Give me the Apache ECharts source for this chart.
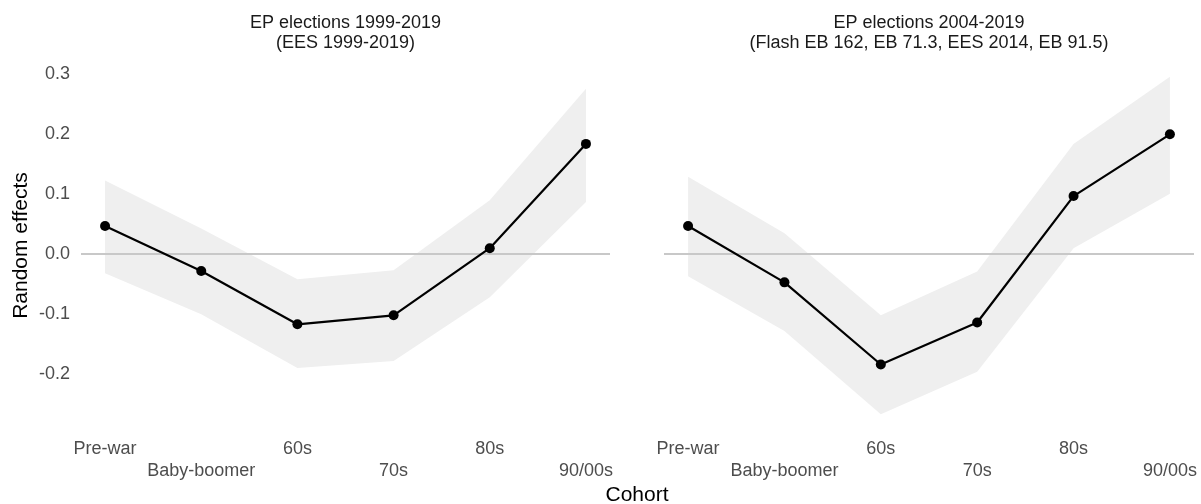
<!DOCTYPE html>
<html>
<head>
<meta charset="utf-8">
<script src="https://cdn.jsdelivr.net/npm/echarts@6/dist/echarts.min.js"></script>
<style>
  html, body { margin: 0; padding: 0; background: #ffffff; }
  #chart { width: 1201px; height: 504px; }
</style>
</head>
<body>
<div id="chart"></div>
<script>
// Cohort random effects with 95% intervals, two survey pools
const cohorts = ['Pre-war', 'Baby-boomer', '60s', '70s', '80s', '90/00s'];

// EP elections 1999-2019 (EES 1999-2019)
const eesEstimate = [0.047, -0.028, -0.117, -0.102, 0.010, 0.184];
const eesLower    = [-0.032, -0.100, -0.190, -0.178, -0.072, 0.087];
const eesUpper    = [0.123, 0.043, -0.042, -0.027, 0.090, 0.276];

// EP elections 2004-2019 (Flash EB 162, EB 71.3, EES 2014, EB 91.5)
const ebEstimate = [0.047, -0.047, -0.184, -0.114, 0.097, 0.200];
const ebLower    = [-0.037, -0.128, -0.267, -0.196, 0.010, 0.101];
const ebUpper    = [0.129, 0.035, -0.102, -0.029, 0.184, 0.296];

const yTicks = [-0.2, -0.1, 0.0, 0.1, 0.2, 0.3];

const panelTitles = [
  'EP elections 1999-2019\n(EES 1999-2019)',
  'EP elections 2004-2019\n(Flash EB 162, EB 71.3, EES 2014, EB 91.5)'
];

const FONT = "'Liberation Sans', Arial, Helvetica, sans-serif";
const positions = cohorts.map((_, i) => i);

const grids = [
  { left: 81, width: 529, top: 60, height: 371 },
  { left: 664, width: 530, top: 60, height: 371 }
];

function xAxisFor(gridIndex) {
  return {
    type: 'value', gridIndex,
    min: -0.25, max: cohorts.length - 0.75,
    axisLine: { show: false }, axisTick: { show: false }, splitLine: { show: false },
    axisLabel: {
      customValues: positions,
      margin: 7,
      color: '#4d4d4d', fontFamily: FONT, fontSize: 18, lineHeight: 22,
      verticalAlign: 'top',
      formatter: v => {
        const i = Math.round(v);
        return i % 2 === 1 ? '\n' + cohorts[i] : cohorts[i];
      }
    }
  };
}

function yAxisFor(gridIndex, showLabels) {
  return {
    type: 'value', gridIndex,
    min: -0.295, max: 0.324,
    axisLine: { show: false }, axisTick: { show: false }, splitLine: { show: false },
    axisLabel: {
      show: showLabels,
      customValues: yTicks,
      margin: 11,
      color: '#4d4d4d', fontFamily: FONT, fontSize: 18,
      formatter: v => v.toFixed(1)
    }
  };
}

function pairs(values) { return values.map((v, i) => [i, v]); }

function panelSeries(idx, est, lower, upper) {
  return [
    {
      // confidence ribbon: one polygon through upper bounds and back along lower bounds
      type: 'custom', xAxisIndex: idx, yAxisIndex: idx,
      silent: true, z: 1,
      data: lower.map((lo, i) => [i, lo, upper[i]]),
      encode: { x: 0, y: [1, 2] },
      renderItem: (params, api) => {
        if (params.dataIndex !== 0) return null;
        const top = upper.map((u, i) => api.coord([i, u]));
        const bottom = lower.map((l, i) => api.coord([i, l])).reverse();
        return {
          type: 'polygon',
          shape: { points: top.concat(bottom) },
          style: { fill: '#efefef' }
        };
      },
      markLine: {
        silent: true, symbol: 'none', z: 3,
        label: { show: false },
        lineStyle: { color: '#c8c8c8', width: 2, type: 'solid' },
        data: [{ yAxis: 0 }]
      }
    },
    {
      type: 'line', xAxisIndex: idx, yAxisIndex: idx,
      data: pairs(est),
      symbol: 'circle', symbolSize: 10, showAllSymbol: true,
      itemStyle: { color: '#000000' },
      lineStyle: { color: '#000000', width: 2.2 },
      z: 10
    }
  ];
}

const chart = echarts.init(document.getElementById('chart'), null, { renderer: 'canvas' });

chart.setOption({
  animation: false,
  backgroundColor: '#ffffff',
  title: panelTitles.map((t, i) => ({
    text: t,
    left: grids[i].left + grids[i].width / 2,
    top: 13,
    padding: 0,
    textAlign: 'center',
    textStyle: { fontFamily: FONT, fontSize: 18, fontWeight: 'normal', color: '#1a1a1a', lineHeight: 20 }
  })),
  grid: grids,
  xAxis: [xAxisFor(0), xAxisFor(1)],
  yAxis: [yAxisFor(0, true), yAxisFor(1, false)],
  series: [
    ...panelSeries(0, eesEstimate, eesLower, eesUpper),
    ...panelSeries(1, ebEstimate, ebLower, ebUpper)
  ],
  graphic: [
    {
      type: 'text', x: 637, y: 495,
      style: { text: 'Cohort', font: '21px ' + FONT, fill: '#000000', align: 'center', verticalAlign: 'middle' }
    },
    {
      type: 'text', x: 21, y: 245.5, rotation: Math.PI / 2,
      style: { text: 'Random effects', font: '21px ' + FONT, fill: '#000000', align: 'center', verticalAlign: 'middle' }
    }
  ]
});
</script>
</body>
</html>
